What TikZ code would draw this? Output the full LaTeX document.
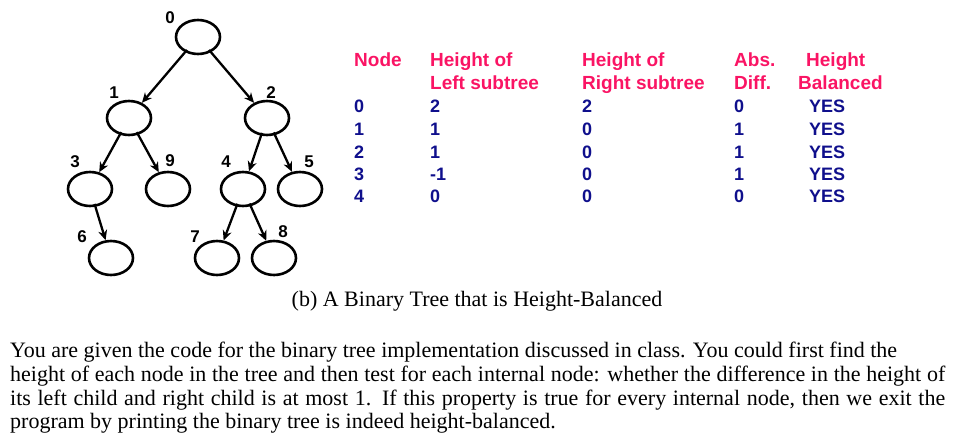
\documentclass[tikz,border=0pt]{standalone}
\usepackage{fontspec}
\setmainfont{Liberation Serif}
\newfontfamily\arialb{Liberation Sans}
\usetikzlibrary{shapes.geometric,arrows.meta}
\definecolor{pinkh}{RGB}{250,20,100}
\definecolor{navyb}{RGB}{15,15,140}
\begin{document}
\begin{tikzpicture}[x=1pt,y=-1pt,
  tn/.style={ellipse,draw,line width=2.6pt,minimum width=44pt,minimum height=34pt,inner sep=0pt},
  lb/.style={font=\arialb\bfseries\fontsize{17}{17}\selectfont},
  ed/.style={line width=2.3pt,-{Stealth[length=10pt,width=9pt]},shorten <=-3pt},
  hd/.style={font=\arialb\bfseries\fontsize{19}{19}\selectfont,text=pinkh,anchor=base west,inner sep=0pt},
  bd/.style={font=\arialb\bfseries\fontsize{18}{18}\selectfont,text=navyb,anchor=base west,inner sep=0pt},
  tx/.style={font=\fontsize{22}{22}\selectfont,anchor=base west,inner sep=0pt}]
\useasboundingbox (0,0) rectangle (955,447);
\node[tn] (n0) at (198,37) {};
\node[tn] (n1) at (129,118) {};
\node[tn] (n2) at (267,118) {};
\node[tn] (n3) at (90,189) {};
\node[tn] (n9) at (168,189) {};
\node[tn] (n4) at (243,189) {};
\node[tn] (n5) at (300,189) {};
\node[tn] (n6) at (111,258) {};
\node[tn] (n7) at (217,258) {};
\node[tn] (n8) at (274,258) {};
\node[lb] (l0) at (170,18) {0};
\node[lb] (l1) at (114,93) {1};
\node[lb] (l2) at (271,93) {2};
\node[lb] (l3) at (75,162) {3};
\node[lb] (l9) at (170,161) {9};
\node[lb] (l4) at (226,162) {4};
\node[lb] (l5) at (309,162) {5};
\node[lb] (l6) at (82,237) {6};
\node[lb] (l7) at (195,237) {7};
\node[lb] (l8) at (283,232) {8};
\draw[ed] (n0) -- (n1);
\draw[ed] (n0) -- (n2);
\draw[ed] (n1) -- (n3);
\draw[ed] (n1) -- (n9);
\draw[ed] (n2) -- (n4);
\draw[ed] (n2) -- (n5);
\draw[ed] (n3) -- (n6);
\draw[ed] (n4) -- (n7);
\draw[ed] (n4) -- (n8);
% table
\node[hd] (h1) at (354,66) {Node};
\node[hd] (h2a) at (430,66) {Height of};
\node[hd] (h2b) at (430,89) {Left subtree};
\node[hd] (h3a) at (582,66) {Height of};
\node[hd] (h3b) at (582,89) {Right subtree};
\node[hd] (h4a) at (734,66) {Abs.};
\node[hd] (h4b) at (734,89) {Diff.};
\node[hd] (h5a) at (806,66) {Height};
\node[hd] (h5b) at (798,89) {Balanced};
\foreach \y/\a/\b/\c/\d [count=\i] in {112/0/2/2/0,135/1/1/0/1,158/2/1/0/1,180/3/-1/0/1,202/4/0/0/0}{
  \node[bd] (ra\i) at (354,\y) {\a};
  \node[bd] (rb\i) at (430,\y) {\b};
  \node[bd] (rc\i) at (582,\y) {\c};
  \node[bd] (rd\i) at (734,\y) {\d};
  \node[bd] (re\i) at (809,\y) {YES};
}
\node[font=\fontsize{22}{22}\selectfont,anchor=base,inner sep=0pt] (cap) at (477,306) {(b) A Binary Tree that is Height-Balanced};
\node[tx] (p1) at (10,357) {You are given the code for the binary tree implementation discussed in class. You could first find the};
\node[tx] (p2) at (10,381) {\hbox to 935pt{height of each node in the tree and then test for each internal node: whether the difference in the height of}};
\node[tx] (p3) at (10,405) {\hbox to 935pt{its left child and right child is at most 1. If this property is true for every internal node, then we exit the}};
\node[tx] (p4) at (10,428) {program by printing the binary tree is indeed height-balanced.};
\end{tikzpicture}
\end{document}
